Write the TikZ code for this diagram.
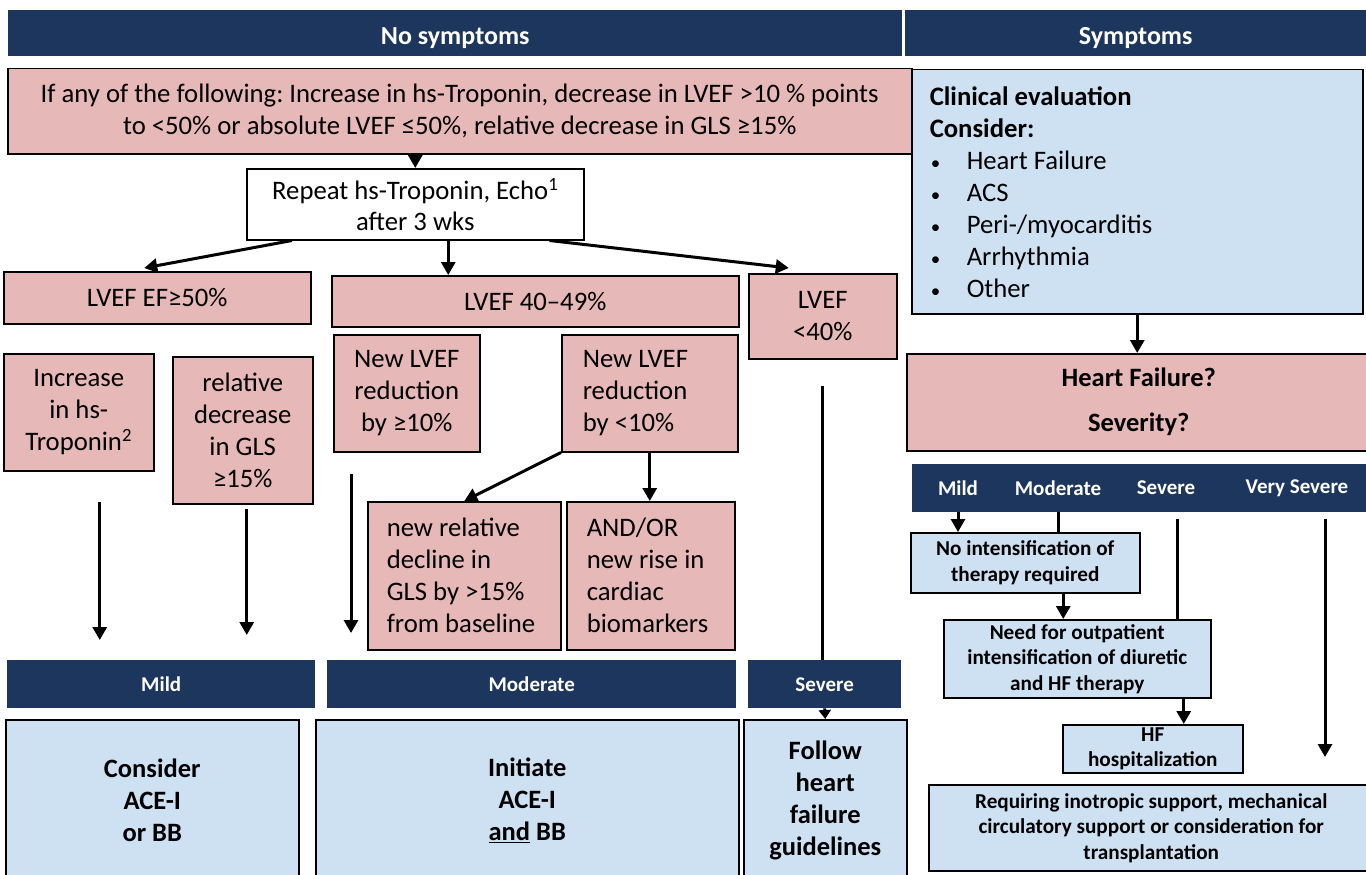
\documentclass[tikz,border=0pt]{standalone}
\usepackage{fontspec}
\setmainfont{Carlito}
\usetikzlibrary{arrows.meta}
\definecolor{navy}{RGB}{28,54,93}
\definecolor{rose}{RGB}{230,184,183}
\definecolor{paleblue}{RGB}{206,225,242}
\newcommand{\bul}{\hspace*{1pt}\makebox[36pt][l]{\fontsize{19}{19}\selectfont\textbullet}}
\frenchspacing

\begin{document}
\begin{tikzpicture}[x=1pt,y=-1pt,
    every node/.style={anchor=north west,inner sep=0pt,align=flush center},
    hdr/.style={fill=navy,text=white,font=\fontsize{26}{32}\selectfont\bfseries},
    sevhdr/.style={fill=navy,text=white,font=\fontsize{21}{26}\selectfont\bfseries},
    pinkbox/.style={draw,fill=rose,line width=1.5pt,font=\fontsize{26.7}{32}\selectfont},
    bluebox/.style={draw,fill=paleblue,line width=1.5pt,font=\fontsize{26.5}{32}\selectfont\bfseries},
    smallbox/.style={draw,fill=paleblue,line width=1.5pt,font=\fontsize{21.2}{25.5}\selectfont\bfseries},
    arr/.style={line width=3pt,-{Triangle[length=13pt,width=14pt]}},
    ln/.style={line width=3pt}]
\useasboundingbox (0,0) rectangle (1366,875);
\clip (0,0) rectangle (1366,875);

% headers
\node[hdr,minimum width=894pt,minimum height=46pt] (nosym) at (8,10) {\raisebox{-4.5pt}[\height][\depth]{No symptoms}};
\node[hdr,minimum width=461pt,minimum height=46pt] (sym) at (905,10) {\raisebox{-4.5pt}[\height][\depth]{Symptoms}};

% no symptoms
\node[pinkbox,minimum width=904pt,minimum height=85pt] (trig) at (7,68)
    {If any of the following: Increase in hs-Troponin, decrease in LVEF >10 \% points\\
     to <50\% or absolute LVEF ≤50\%, relative decrease in GLS ≥15\%};
\node[pinkbox,fill=white,minimum width=337pt,minimum height=71pt,font=\fontsize{26.7}{31}\selectfont] (repeat) at (246,168)
    {Repeat hs-Troponin, Echo\textsuperscript{1}\\after 3 wks};
\node[pinkbox,minimum width=307pt,minimum height=52pt] (ef50) at (3,271) {LVEF EF≥50\%};
\node[pinkbox,minimum width=407pt,minimum height=51pt] (ef4049) at (331,275) {LVEF 40--49\%};
\node[pinkbox,minimum width=148pt,minimum height=85pt] (ef40) at (748,273) {LVEF\\<40\%};
\node[pinkbox,minimum width=150pt,minimum height=117pt] (incr) at (3,353) {Increase\\in hs-\\Troponin\textsuperscript{2}};
\node[pinkbox,minimum width=140pt,minimum height=147pt] (reldec) at (172,356) {relative\\decrease\\in GLS\\≥15\%};
\node[pinkbox,minimum width=146pt,minimum height=117pt] (newA) at (333,334) {New LVEF\\reduction\\by ≥10\%};
\node[pinkbox,align=flush left,text width=134pt,minimum width=176pt,minimum height=117pt] (newB) at (561,334)
    {New LVEF\\reduction\\by <10\%};
\node[pinkbox,align=flush left,text width=155pt,minimum width=193pt,minimum height=148pt] (decline) at (367,501)
    {new relative\\decline in\\GLS by >15\%\\from baseline};
\node[pinkbox,align=flush left,text width=128pt,minimum width=168pt,minimum height=148pt] (andor) at (566,501)
    {AND/OR\\new rise in\\cardiac\\biomarkers};

\node[sevhdr,minimum width=308pt,minimum height=48pt] (mildL) at (7,660) {Mild};
\node[sevhdr,minimum width=409pt,minimum height=48pt] (modL) at (327,660) {Moderate};
\node[sevhdr,minimum width=153pt,minimum height=48pt] (sevL) at (748,660) {Severe};
\node[bluebox,minimum width=293pt,minimum height=162pt] (consider) at (5,719) {Consider\\ACE-I\\or BB};
\node[bluebox,minimum width=423pt,minimum height=162pt] (initiate) at (315,719) {Initiate\\ACE-I\\\underline{and} BB};
\node[bluebox,minimum width=163pt,minimum height=162pt] (follow) at (743,719) {Follow\\heart\\failure\\guidelines};

% symptoms
\node[pinkbox,fill=paleblue,align=flush left,text width=415pt,minimum width=451pt,minimum height=244pt] (clin) at (911,69)
    {\textbf{Clinical evaluation}\\ \textbf{Consider:}\\ \bul Heart Failure\\ \bul ACS\\
     \bul Peri-/myocarditis\\ \bul Arrhythmia\\ \bul Other};
\node[pinkbox,font=\fontsize{26.5}{32}\selectfont\bfseries,minimum width=464pt,minimum height=97pt] (hf) at (906,353)
    {Heart Failure?\\[13pt]Severity?};
\node[fill=navy,minimum width=458pt,minimum height=48pt] (sevbar) at (912,464) {};
\node[sevhdr,fill=none,anchor=center] (smild) at (958,488) {Mild};
\node[sevhdr,fill=none,anchor=center] (smod) at (1058,488) {Moderate};
\node[sevhdr,fill=none,anchor=center] (ssev) at (1166,488) {Severe};
\node[sevhdr,fill=none,anchor=center] (svsev) at (1297,488) {Very Severe};
\node[smallbox,minimum width=229pt,minimum height=60pt] (noint) at (910,532) {No intensification of\\therapy required};
\node[smallbox,minimum width=267pt,minimum height=78pt] (need) at (943,619)
    {Need for outpatient\\intensification of diuretic\\and HF therapy};
\node[smallbox,minimum width=180pt,minimum height=48pt] (hosp) at (1062,724) {HF\\hospitalization};
\node[smallbox,minimum width=445pt,minimum height=86pt] (req) at (928,784)
    {Requiring inotropic support, mechanical\\circulatory support or consideration for\\transplantation};

% connectors
\draw[arr] (trig.south -| repeat.north) -- (repeat.north);
\draw[arr] ([xshift=46pt]repeat.south west) -- ([xshift=-13pt,yshift=3pt]ef50.north);
\draw[arr] ([xshift=33pt]repeat.south) -- ([xshift=33pt]repeat.south |- ef4049.north);
\draw[arr] ([xshift=-35pt]repeat.south east) -- ([xshift=-34pt,yshift=5pt]ef40.north);
\draw[arr,shorten <=30pt,shorten >=20pt] ([xshift=21pt]incr.south) -- ([xshift=21pt]incr.south |- mildL.north);
\draw[arr,shorten <=4pt,shorten >=25pt] ([xshift=4pt]reldec.south) -- ([xshift=4pt]reldec.south |- mildL.north);
\draw[arr,shorten <=21pt,shorten >=27pt] ([xshift=18pt]newA.south west) -- ([xshift=18pt]newA.south west |- modL.north);
\draw[arr] (newB.south west) -- (decline.north);
\draw[arr] (newB.south) -- (newB.south |- andor.north);
\draw[ln,shorten <=26pt] (ef40.south) -- (ef40.south |- sevL.north);
\draw[line width=3pt,-{Triangle[length=9pt,width=12pt]}] (sevL.south) -- (follow.north);

\draw[arr] (clin.south) -- (clin.south |- hf.north);
\draw[arr] (smild |- sevbar.south) -- (smild |- noint.north);
\draw[ln] (smod |- sevbar.south) -- (smod |- noint.north);
\draw[arr] ([xshift=38pt]noint.south) -- ([xshift=38pt]noint.south |- need.north);
\draw[ln,shorten <=7pt] ([xshift=11pt]ssev.center |- sevbar.south) -- ([xshift=11pt]ssev.center |- need.north);
\draw[arr] ([xshift=31pt]hosp.north |- need.south) -- ([xshift=31pt]hosp.north);
\draw[arr,shorten <=7pt,shorten >=27pt] ([xshift=28pt]svsev.center |- sevbar.south) -- ([xshift=28pt]svsev.center |- req.north);
\end{tikzpicture}
\end{document}
